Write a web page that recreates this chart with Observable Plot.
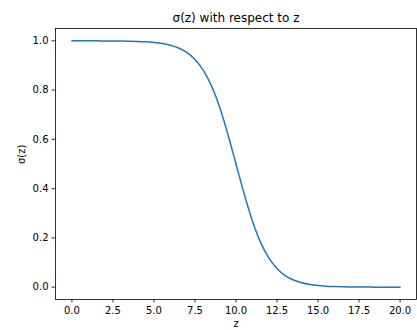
<!DOCTYPE html>
<html>
<head>
<meta charset="utf-8">
<script src="https://cdn.jsdelivr.net/npm/d3@7"></script>
<script src="https://cdn.jsdelivr.net/npm/@observablehq/plot@0.6"></script>
<style>
  html, body { margin: 0; padding: 0; background: #fff; }
</style>
</head>
<body>
<div id="chart"></div>
<script>
const titleText = "σ(z) with respect to z";
const xLabel = "z";
const yLabel = "σ(z)";
const xTicks = [0, 2.5, 5, 7.5, 10, 12.5, 15, 17.5, 20];
const yTicks = [0, 0.2, 0.4, 0.6, 0.8, 1.0];
// z values and σ(z)
const zValues = [0, 0.5, 1, 1.5, 2, 2.5, 3, 3.5, 4, 4.5, 5, 5.5, 6, 6.5, 7, 7.5, 8, 8.5, 9, 9.5, 10,
  10.5, 11, 11.5, 12, 12.5, 13, 13.5, 14, 14.5, 15, 15.5, 16, 16.5, 17, 17.5, 18, 18.5, 19, 19.5, 20];
const sigmaValues = [1.0, 1.0, 0.9999, 0.9998, 0.9997, 0.9994, 0.9991, 0.9985, 0.9975, 0.9959, 0.9933,
  0.989, 0.982, 0.971, 0.953, 0.924, 0.881, 0.818, 0.731, 0.622, 0.5,
  0.378, 0.269, 0.182, 0.119, 0.076, 0.047, 0.029, 0.018, 0.011, 0.0067,
  0.0041, 0.0025, 0.0015, 0.0009, 0.0006, 0.0003, 0.0002, 0.0001, 0.0001, 0.0];

const data = zValues.map((z, i) => ({z, s: sigmaValues[i]}));

const chart = Plot.plot({
  width: 417,
  height: 330,
  marginLeft: 55,
  marginRight: 1,
  marginTop: 28,
  marginBottom: 31,
  style: {fontFamily: "DejaVu Sans", fontSize: "10px", color: "#000", background: "#fff"},
  x: {domain: [-1, 21]},
  y: {domain: [-0.05, 1.05]},
  marks: [
    Plot.frame({stroke: "#000", strokeWidth: 0.8}),
    Plot.axisX({ticks: xTicks, tickFormat: d3.format(".1f"), tickSize: 3.5, tickPadding: 3.5, label: null, stroke: "#000", strokeWidth: 0.8}),
    Plot.axisY({ticks: yTicks, tickFormat: d3.format(".1f"), tickSize: 3.5, tickPadding: 3.5, label: null, stroke: "#000", strokeWidth: 0.8}),
    Plot.line(data, {x: "z", y: "s", stroke: "#1f77b4", strokeWidth: 1.5, curve: "monotone-x"}),
    Plot.text([titleText], {text: d => d, frameAnchor: "top", dy: -10, fontSize: 12, lineAnchor: "middle", fill: "#000"}),
    Plot.text([xLabel], {text: d => d, frameAnchor: "bottom", dy: 24, fontSize: 10, lineAnchor: "middle", fill: "#000"}),
    Plot.text([yLabel], {text: d => d, frameAnchor: "left", dx: -33.5, rotate: -90, fontSize: 10, lineAnchor: "middle", fill: "#000"})
  ]
});
document.getElementById("chart").appendChild(chart);
</script>
</body>
</html>
